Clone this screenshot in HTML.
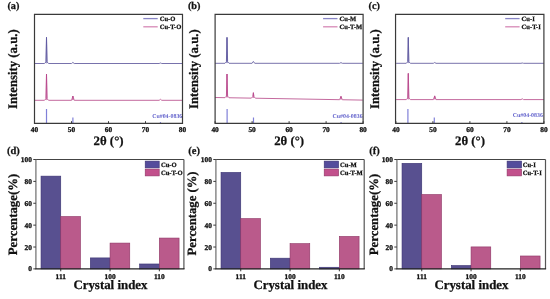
<!DOCTYPE html>
<html><head><meta charset="utf-8"><style>
html,body{margin:0;padding:0;background:#fff;width:550px;height:299px;overflow:hidden;}
svg{display:block;font-family:"Liberation Serif",serif;will-change:transform;text-rendering:geometricPrecision;}
</style></head><body>
<svg width="550" height="299" viewBox="0 0 550 299"><defs><clipPath id="ct0"><rect x="34.5" y="14.4" width="148" height="109.0"/></clipPath></defs>
<g clip-path="url(#ct0)"><path d="M34.30,63.50 L44.51,63.50 L45.91,61.90 L46.51,37.30 L47.11,61.90 L48.51,63.50 L71.59,63.50 L72.89,62.40 L74.19,63.50 L159.17,63.50 L160.47,63.00 L161.77,63.50 L182.30,63.50" fill="none" stroke="#7872ac" stroke-width="1.0"/><path d="M34.30,100.30 L44.51,100.30 L45.91,98.70 L46.51,74.00 L47.11,98.70 L48.51,100.30 L71.59,100.30 L72.89,96.00 L74.19,100.30 L159.17,100.30 L160.47,99.30 L161.77,100.30 L182.30,100.30" fill="none" stroke="#c46a9e" stroke-width="1.0"/><path d="M46.16,63.30 L46.51,37.30 L46.86,63.30" fill="none" stroke="#5a55a0" stroke-width="0.55"/><path d="M46.16,100.10 L46.51,74.00 L46.86,100.10" fill="none" stroke="#b8408a" stroke-width="0.55"/><path d="M72.54,100.10 L72.89,96.00 L73.24,100.10" fill="none" stroke="#b8408a" stroke-width="0.55"/><line x1="46.51" y1="109.0" x2="46.51" y2="123.4" stroke="#8080d8" stroke-width="1.2"/><line x1="72.89" y1="117.6" x2="72.89" y2="123.4" stroke="#8080d8" stroke-width="1.2"/><line x1="160.47" y1="122.0" x2="160.47" y2="123.4" stroke="#8080d8" stroke-width="1.2"/><text x="152.2" y="118.0" font-family="Liberation Serif" font-weight="bold" font-size="5.9" fill="#6262cc">Cu#04-0836</text></g>
<path d="M34.5,14.4 L182.5,14.4 L182.5,123.4 L34.5,123.4 Z" fill="none" stroke="#3a3a3a" stroke-width="1.2"/>
<line x1="34.50" y1="123.4" x2="34.50" y2="121.2" stroke="#3a3a3a" stroke-width="1"/>
<text x="34.50" y="132.3" text-anchor="middle" font-family="Liberation Serif" font-weight="bold" stroke="#111" stroke-width="0.3" font-size="7.4" fill="#111">40</text>
<line x1="71.50" y1="123.4" x2="71.50" y2="121.2" stroke="#3a3a3a" stroke-width="1"/>
<text x="71.50" y="132.3" text-anchor="middle" font-family="Liberation Serif" font-weight="bold" stroke="#111" stroke-width="0.3" font-size="7.4" fill="#111">50</text>
<line x1="108.50" y1="123.4" x2="108.50" y2="121.2" stroke="#3a3a3a" stroke-width="1"/>
<text x="108.50" y="132.3" text-anchor="middle" font-family="Liberation Serif" font-weight="bold" stroke="#111" stroke-width="0.3" font-size="7.4" fill="#111">60</text>
<line x1="145.50" y1="123.4" x2="145.50" y2="121.2" stroke="#3a3a3a" stroke-width="1"/>
<text x="145.50" y="132.3" text-anchor="middle" font-family="Liberation Serif" font-weight="bold" stroke="#111" stroke-width="0.3" font-size="7.4" fill="#111">70</text>
<line x1="182.50" y1="123.4" x2="182.50" y2="121.2" stroke="#3a3a3a" stroke-width="1"/>
<text x="182.50" y="132.3" text-anchor="middle" font-family="Liberation Serif" font-weight="bold" stroke="#111" stroke-width="0.3" font-size="7.4" fill="#111">80</text>
<line x1="143.3" y1="18.6" x2="157.7" y2="18.6" stroke="#8884c4" stroke-width="1.3"/>
<line x1="143.3" y1="26.8" x2="157.7" y2="26.8" stroke="#d688b6" stroke-width="1.3"/>
<text x="159.7" y="21.0" font-family="Liberation Serif" font-weight="bold" stroke="#111" stroke-width="0.25" font-size="6.6" fill="#111">Cu-O</text>
<text x="159.7" y="29.2" font-family="Liberation Serif" font-weight="bold" stroke="#111" stroke-width="0.25" font-size="6.6" fill="#111">Cu-T-O</text>
<text x="93.6" y="145.3" font-family="Liberation Serif" font-weight="bold" stroke="#111" stroke-width="0.25" font-size="12.8" fill="#111">2θ (°)</text>
<text transform="translate(17.4,69.15) rotate(-90) scale(0.973,1)" text-anchor="middle" font-family="Liberation Serif" font-weight="bold" stroke="#111" stroke-width="0.25" font-size="13.1" fill="#111">Intensity (a.u.)</text>
<text x="7.4" y="8.7" font-family="Liberation Serif" font-weight="bold" stroke="#111" stroke-width="0.25" font-size="10.3" fill="#111">(a)</text>
<defs><clipPath id="ct1"><rect x="215.1" y="14.4" width="148" height="109.0"/></clipPath></defs>
<g clip-path="url(#ct1)"><path d="M214.80,63.30 L225.01,63.30 L226.41,61.70 L227.01,37.40 L227.61,61.70 L229.01,63.30 L252.09,63.30 L253.39,61.40 L254.69,63.30 L339.67,63.30 L340.97,62.60 L342.27,63.30 L362.80,63.30" fill="none" stroke="#7872ac" stroke-width="1.0"/><path d="M214.80,97.50 L225.01,97.68 L226.41,96.11 L227.01,74.00 L227.61,96.11 L229.01,97.75 L251.39,98.14 L252.79,96.58 L253.39,92.70 L253.99,96.58 L255.39,98.21 L339.67,99.69 L340.97,96.30 L342.27,99.74 L362.80,100.10" fill="none" stroke="#c46a9e" stroke-width="1.0"/><path d="M226.66,63.10 L227.01,37.40 L227.36,63.10" fill="none" stroke="#5a55a0" stroke-width="0.55"/><path d="M226.66,97.51 L227.01,74.00 L227.36,97.51" fill="none" stroke="#b8408a" stroke-width="0.55"/><path d="M253.04,97.98 L253.39,92.70 L253.74,97.98" fill="none" stroke="#b8408a" stroke-width="0.55"/><path d="M340.62,99.52 L340.97,96.30 L341.32,99.52" fill="none" stroke="#b8408a" stroke-width="0.55"/><line x1="227.11" y1="109.0" x2="227.11" y2="123.4" stroke="#8080d8" stroke-width="1.2"/><line x1="253.49" y1="117.6" x2="253.49" y2="123.4" stroke="#8080d8" stroke-width="1.2"/><line x1="341.07" y1="122.0" x2="341.07" y2="123.4" stroke="#8080d8" stroke-width="1.2"/><text x="332.5" y="118.0" font-family="Liberation Serif" font-weight="bold" font-size="5.9" fill="#6262cc">Cu#04-0836</text></g>
<path d="M215.1,14.4 L363.1,14.4 L363.1,123.4 L215.1,123.4 Z" fill="none" stroke="#3a3a3a" stroke-width="1.2"/>
<line x1="215.10" y1="123.4" x2="215.10" y2="121.2" stroke="#3a3a3a" stroke-width="1"/>
<text x="215.10" y="132.3" text-anchor="middle" font-family="Liberation Serif" font-weight="bold" stroke="#111" stroke-width="0.3" font-size="7.4" fill="#111">40</text>
<line x1="252.10" y1="123.4" x2="252.10" y2="121.2" stroke="#3a3a3a" stroke-width="1"/>
<text x="252.10" y="132.3" text-anchor="middle" font-family="Liberation Serif" font-weight="bold" stroke="#111" stroke-width="0.3" font-size="7.4" fill="#111">50</text>
<line x1="289.10" y1="123.4" x2="289.10" y2="121.2" stroke="#3a3a3a" stroke-width="1"/>
<text x="289.10" y="132.3" text-anchor="middle" font-family="Liberation Serif" font-weight="bold" stroke="#111" stroke-width="0.3" font-size="7.4" fill="#111">60</text>
<line x1="326.10" y1="123.4" x2="326.10" y2="121.2" stroke="#3a3a3a" stroke-width="1"/>
<text x="326.10" y="132.3" text-anchor="middle" font-family="Liberation Serif" font-weight="bold" stroke="#111" stroke-width="0.3" font-size="7.4" fill="#111">70</text>
<line x1="363.10" y1="123.4" x2="363.10" y2="121.2" stroke="#3a3a3a" stroke-width="1"/>
<text x="363.10" y="132.3" text-anchor="middle" font-family="Liberation Serif" font-weight="bold" stroke="#111" stroke-width="0.3" font-size="7.4" fill="#111">80</text>
<line x1="323.09999999999997" y1="18.6" x2="337.5" y2="18.6" stroke="#8884c4" stroke-width="1.3"/>
<line x1="323.09999999999997" y1="26.8" x2="337.5" y2="26.8" stroke="#d688b6" stroke-width="1.3"/>
<text x="339.5" y="21.0" font-family="Liberation Serif" font-weight="bold" stroke="#111" stroke-width="0.25" font-size="6.6" fill="#111">Cu-M</text>
<text x="339.5" y="29.2" font-family="Liberation Serif" font-weight="bold" stroke="#111" stroke-width="0.25" font-size="6.6" fill="#111">Cu-T-M</text>
<text x="274.2" y="145.3" font-family="Liberation Serif" font-weight="bold" stroke="#111" stroke-width="0.25" font-size="12.8" fill="#111">2θ (°)</text>
<text transform="translate(198.0,69.15) rotate(-90) scale(0.973,1)" text-anchor="middle" font-family="Liberation Serif" font-weight="bold" stroke="#111" stroke-width="0.25" font-size="13.1" fill="#111">Intensity (a.u.)</text>
<text x="187.9" y="8.7" font-family="Liberation Serif" font-weight="bold" stroke="#111" stroke-width="0.25" font-size="10.3" fill="#111">(b)</text>
<defs><clipPath id="ct2"><rect x="395.9" y="14.4" width="148" height="109.0"/></clipPath></defs>
<g clip-path="url(#ct2)"><path d="M396.10,63.30 L406.31,63.30 L407.71,61.70 L408.31,37.40 L408.91,61.70 L410.31,63.30 L433.39,63.30 L434.69,62.50 L435.99,63.30 L520.97,63.30 L522.27,63.00 L523.57,63.30 L544.10,63.30" fill="none" stroke="#7872ac" stroke-width="1.0"/><path d="M396.10,99.60 L406.31,99.60 L407.71,98.00 L408.31,73.40 L408.91,98.00 L410.31,99.60 L433.39,99.60 L434.69,95.90 L435.99,99.60 L520.97,99.60 L522.27,98.80 L523.57,99.60 L544.10,99.60" fill="none" stroke="#c46a9e" stroke-width="1.0"/><path d="M407.96,63.10 L408.31,37.40 L408.66,63.10" fill="none" stroke="#5a55a0" stroke-width="0.55"/><path d="M407.96,99.40 L408.31,73.40 L408.66,99.40" fill="none" stroke="#b8408a" stroke-width="0.55"/><path d="M434.34,99.40 L434.69,95.90 L435.04,99.40" fill="none" stroke="#b8408a" stroke-width="0.55"/><line x1="407.91" y1="109.0" x2="407.91" y2="123.4" stroke="#8080d8" stroke-width="1.2"/><line x1="434.29" y1="117.6" x2="434.29" y2="123.4" stroke="#8080d8" stroke-width="1.2"/><line x1="521.87" y1="122.0" x2="521.87" y2="123.4" stroke="#8080d8" stroke-width="1.2"/><text x="512.8000000000001" y="117.4" font-family="Liberation Serif" font-weight="bold" font-size="5.9" fill="#6262cc">Cu#04-0836</text></g>
<path d="M395.55,14.4 L543.9,14.4 L543.9,123.4 L395.55,123.4 Z" fill="none" stroke="#3a3a3a" stroke-width="1.2"/>
<line x1="395.90" y1="123.4" x2="395.90" y2="121.2" stroke="#3a3a3a" stroke-width="1"/>
<text x="395.90" y="132.3" text-anchor="middle" font-family="Liberation Serif" font-weight="bold" stroke="#111" stroke-width="0.3" font-size="7.4" fill="#111">40</text>
<line x1="432.90" y1="123.4" x2="432.90" y2="121.2" stroke="#3a3a3a" stroke-width="1"/>
<text x="432.90" y="132.3" text-anchor="middle" font-family="Liberation Serif" font-weight="bold" stroke="#111" stroke-width="0.3" font-size="7.4" fill="#111">50</text>
<line x1="469.90" y1="123.4" x2="469.90" y2="121.2" stroke="#3a3a3a" stroke-width="1"/>
<text x="469.90" y="132.3" text-anchor="middle" font-family="Liberation Serif" font-weight="bold" stroke="#111" stroke-width="0.3" font-size="7.4" fill="#111">60</text>
<line x1="506.90" y1="123.4" x2="506.90" y2="121.2" stroke="#3a3a3a" stroke-width="1"/>
<text x="506.90" y="132.3" text-anchor="middle" font-family="Liberation Serif" font-weight="bold" stroke="#111" stroke-width="0.3" font-size="7.4" fill="#111">70</text>
<line x1="543.90" y1="123.4" x2="543.90" y2="121.2" stroke="#3a3a3a" stroke-width="1"/>
<text x="543.90" y="132.3" text-anchor="middle" font-family="Liberation Serif" font-weight="bold" stroke="#111" stroke-width="0.3" font-size="7.4" fill="#111">80</text>
<line x1="505.2" y1="18.6" x2="519.6" y2="18.6" stroke="#8884c4" stroke-width="1.3"/>
<line x1="505.2" y1="26.8" x2="519.6" y2="26.8" stroke="#d688b6" stroke-width="1.3"/>
<text x="521.6" y="21.0" font-family="Liberation Serif" font-weight="bold" stroke="#111" stroke-width="0.25" font-size="6.6" fill="#111">Cu-I</text>
<text x="521.6" y="29.2" font-family="Liberation Serif" font-weight="bold" stroke="#111" stroke-width="0.25" font-size="6.6" fill="#111">Cu-T-I</text>
<text x="455.0" y="145.3" font-family="Liberation Serif" font-weight="bold" stroke="#111" stroke-width="0.25" font-size="12.8" fill="#111">2θ (°)</text>
<text transform="translate(378.79999999999995,69.15) rotate(-90) scale(0.973,1)" text-anchor="middle" font-family="Liberation Serif" font-weight="bold" stroke="#111" stroke-width="0.25" font-size="13.1" fill="#111">Intensity (a.u.)</text>
<text x="368.5" y="8.7" font-family="Liberation Serif" font-weight="bold" stroke="#111" stroke-width="0.25" font-size="10.3" fill="#111">(c)</text>
<rect x="41.03" y="176.13" width="19.72" height="92.77" fill="#585090" stroke="#3a3272" stroke-width="0.6"/>
<rect x="60.75" y="216.50" width="19.72" height="52.40" fill="#ba5a8b" stroke="#8e3464" stroke-width="0.6"/>
<line x1="60.75" y1="268.9" x2="60.75" y2="271.29999999999995" stroke="#3a3a3a" stroke-width="1"/>
<text x="60.75" y="278.8" text-anchor="middle" font-family="Liberation Serif" font-weight="bold" stroke="#111" stroke-width="0.3" font-size="7.4" fill="#111">111</text>
<rect x="90.33" y="257.91" width="19.72" height="10.99" fill="#585090" stroke="#3a3272" stroke-width="0.6"/>
<rect x="110.05" y="243.08" width="19.72" height="25.82" fill="#ba5a8b" stroke="#8e3464" stroke-width="0.6"/>
<line x1="110.05" y1="268.9" x2="110.05" y2="271.29999999999995" stroke="#3a3a3a" stroke-width="1"/>
<text x="110.05" y="278.8" text-anchor="middle" font-family="Liberation Serif" font-weight="bold" stroke="#111" stroke-width="0.3" font-size="7.4" fill="#111">100</text>
<rect x="139.63" y="263.98" width="19.72" height="4.92" fill="#585090" stroke="#3a3272" stroke-width="0.6"/>
<rect x="159.35" y="238.05" width="19.72" height="30.85" fill="#ba5a8b" stroke="#8e3464" stroke-width="0.6"/>
<line x1="159.35" y1="268.9" x2="159.35" y2="271.29999999999995" stroke="#3a3a3a" stroke-width="1"/>
<text x="159.35" y="278.8" text-anchor="middle" font-family="Liberation Serif" font-weight="bold" stroke="#111" stroke-width="0.3" font-size="7.4" fill="#111">110</text>
<line x1="183.9" y1="159.5" x2="183.9" y2="268.9" stroke="#555" stroke-width="1.2"/>
<line x1="35.9" y1="159.5" x2="183.9" y2="159.5" stroke="#444" stroke-width="1.2"/>
<line x1="35.9" y1="159.5" x2="35.9" y2="268.9" stroke="#777" stroke-width="1.3"/>
<line x1="35.3" y1="268.9" x2="184.5" y2="268.9" stroke="#222" stroke-width="1.2"/>
<line x1="33.3" y1="268.90" x2="35.9" y2="268.90" stroke="#3a3a3a" stroke-width="1"/>
<text x="31.9" y="271.40" text-anchor="end" font-family="Liberation Serif" font-weight="bold" stroke="#111" stroke-width="0.3" font-size="7.4" fill="#111">0</text>
<line x1="33.3" y1="247.02" x2="35.9" y2="247.02" stroke="#3a3a3a" stroke-width="1"/>
<text x="31.9" y="249.52" text-anchor="end" font-family="Liberation Serif" font-weight="bold" stroke="#111" stroke-width="0.3" font-size="7.4" fill="#111">20</text>
<line x1="33.3" y1="225.14" x2="35.9" y2="225.14" stroke="#3a3a3a" stroke-width="1"/>
<text x="31.9" y="227.64" text-anchor="end" font-family="Liberation Serif" font-weight="bold" stroke="#111" stroke-width="0.3" font-size="7.4" fill="#111">40</text>
<line x1="33.3" y1="203.26" x2="35.9" y2="203.26" stroke="#3a3a3a" stroke-width="1"/>
<text x="31.9" y="205.76" text-anchor="end" font-family="Liberation Serif" font-weight="bold" stroke="#111" stroke-width="0.3" font-size="7.4" fill="#111">60</text>
<line x1="33.3" y1="181.38" x2="35.9" y2="181.38" stroke="#3a3a3a" stroke-width="1"/>
<text x="31.9" y="183.88" text-anchor="end" font-family="Liberation Serif" font-weight="bold" stroke="#111" stroke-width="0.3" font-size="7.4" fill="#111">80</text>
<line x1="33.3" y1="159.50" x2="35.9" y2="159.50" stroke="#3a3a3a" stroke-width="1"/>
<text x="31.9" y="162.00" text-anchor="end" font-family="Liberation Serif" font-weight="bold" stroke="#111" stroke-width="0.3" font-size="7.4" fill="#111">100</text>
<rect x="145.2" y="161.1" width="14.0" height="6.8" fill="#544c9c" stroke="#3a3272" stroke-width="0.6"/>
<rect x="145.2" y="169.1" width="14.0" height="6.8" fill="#c2508c" stroke="#8e3464" stroke-width="0.6"/>
<text x="160.9" y="166.6" font-family="Liberation Serif" font-weight="bold" stroke="#111" stroke-width="0.25" font-size="6.6" fill="#111">Cu-O</text>
<text x="160.9" y="174.6" font-family="Liberation Serif" font-weight="bold" stroke="#111" stroke-width="0.25" font-size="6.6" fill="#111">Cu-T-O</text>
<text x="73.4" y="289.1" font-family="Liberation Serif" font-weight="bold" stroke="#111" stroke-width="0.25" font-size="12.9" fill="#111">Crystal index</text>
<text transform="translate(16.599999999999998,214.5) rotate(-90)" text-anchor="middle" font-family="Liberation Serif" font-weight="bold" stroke="#111" stroke-width="0.25" font-size="12.8" fill="#111">Percentage(%)</text>
<text x="7.0" y="153.5" font-family="Liberation Serif" font-weight="bold" stroke="#111" stroke-width="0.25" font-size="10.5" fill="#111">(d)</text>
<rect x="221.03" y="172.41" width="19.72" height="96.49" fill="#585090" stroke="#3a3272" stroke-width="0.6"/>
<rect x="240.75" y="218.58" width="19.72" height="50.32" fill="#ba5a8b" stroke="#8e3464" stroke-width="0.6"/>
<line x1="240.75" y1="268.9" x2="240.75" y2="271.29999999999995" stroke="#3a3a3a" stroke-width="1"/>
<text x="240.75" y="278.8" text-anchor="middle" font-family="Liberation Serif" font-weight="bold" stroke="#111" stroke-width="0.3" font-size="7.4" fill="#111">111</text>
<rect x="270.33" y="258.18" width="19.72" height="10.72" fill="#585090" stroke="#3a3272" stroke-width="0.6"/>
<rect x="290.05" y="243.63" width="19.72" height="25.27" fill="#ba5a8b" stroke="#8e3464" stroke-width="0.6"/>
<line x1="290.05" y1="268.9" x2="290.05" y2="271.29999999999995" stroke="#3a3a3a" stroke-width="1"/>
<text x="290.05" y="278.8" text-anchor="middle" font-family="Liberation Serif" font-weight="bold" stroke="#111" stroke-width="0.3" font-size="7.4" fill="#111">100</text>
<rect x="319.63" y="267.26" width="19.72" height="1.64" fill="#585090" stroke="#3a3272" stroke-width="0.6"/>
<rect x="339.35" y="236.41" width="19.72" height="32.49" fill="#ba5a8b" stroke="#8e3464" stroke-width="0.6"/>
<line x1="339.35" y1="268.9" x2="339.35" y2="271.29999999999995" stroke="#3a3a3a" stroke-width="1"/>
<text x="339.35" y="278.8" text-anchor="middle" font-family="Liberation Serif" font-weight="bold" stroke="#111" stroke-width="0.3" font-size="7.4" fill="#111">110</text>
<line x1="364.20000000000005" y1="159.5" x2="364.20000000000005" y2="268.9" stroke="#555" stroke-width="1.2"/>
<line x1="215.9" y1="159.5" x2="364.20000000000005" y2="159.5" stroke="#444" stroke-width="1.2"/>
<line x1="215.9" y1="159.5" x2="215.9" y2="268.9" stroke="#777" stroke-width="1.3"/>
<line x1="215.3" y1="268.9" x2="364.80000000000007" y2="268.9" stroke="#222" stroke-width="1.2"/>
<line x1="213.3" y1="268.90" x2="215.9" y2="268.90" stroke="#3a3a3a" stroke-width="1"/>
<text x="211.9" y="271.40" text-anchor="end" font-family="Liberation Serif" font-weight="bold" stroke="#111" stroke-width="0.3" font-size="7.4" fill="#111">0</text>
<line x1="213.3" y1="247.02" x2="215.9" y2="247.02" stroke="#3a3a3a" stroke-width="1"/>
<text x="211.9" y="249.52" text-anchor="end" font-family="Liberation Serif" font-weight="bold" stroke="#111" stroke-width="0.3" font-size="7.4" fill="#111">20</text>
<line x1="213.3" y1="225.14" x2="215.9" y2="225.14" stroke="#3a3a3a" stroke-width="1"/>
<text x="211.9" y="227.64" text-anchor="end" font-family="Liberation Serif" font-weight="bold" stroke="#111" stroke-width="0.3" font-size="7.4" fill="#111">40</text>
<line x1="213.3" y1="203.26" x2="215.9" y2="203.26" stroke="#3a3a3a" stroke-width="1"/>
<text x="211.9" y="205.76" text-anchor="end" font-family="Liberation Serif" font-weight="bold" stroke="#111" stroke-width="0.3" font-size="7.4" fill="#111">60</text>
<line x1="213.3" y1="181.38" x2="215.9" y2="181.38" stroke="#3a3a3a" stroke-width="1"/>
<text x="211.9" y="183.88" text-anchor="end" font-family="Liberation Serif" font-weight="bold" stroke="#111" stroke-width="0.3" font-size="7.4" fill="#111">80</text>
<line x1="213.3" y1="159.50" x2="215.9" y2="159.50" stroke="#3a3a3a" stroke-width="1"/>
<text x="211.9" y="162.00" text-anchor="end" font-family="Liberation Serif" font-weight="bold" stroke="#111" stroke-width="0.3" font-size="7.4" fill="#111">100</text>
<rect x="324.2" y="161.1" width="14.4" height="6.8" fill="#544c9c" stroke="#3a3272" stroke-width="0.6"/>
<rect x="324.2" y="169.1" width="14.4" height="6.8" fill="#c2508c" stroke="#8e3464" stroke-width="0.6"/>
<text x="340.0" y="166.6" font-family="Liberation Serif" font-weight="bold" stroke="#111" stroke-width="0.25" font-size="6.6" fill="#111">Cu-M</text>
<text x="340.0" y="174.6" font-family="Liberation Serif" font-weight="bold" stroke="#111" stroke-width="0.25" font-size="6.6" fill="#111">Cu-T-M</text>
<text x="253.4" y="289.1" font-family="Liberation Serif" font-weight="bold" stroke="#111" stroke-width="0.25" font-size="12.9" fill="#111">Crystal index</text>
<text transform="translate(195.8,213.4) rotate(-90)" text-anchor="middle" font-family="Liberation Serif" font-weight="bold" stroke="#111" stroke-width="0.25" font-size="12.7" fill="#111">Percentage (%)</text>
<text x="188.3" y="153.5" font-family="Liberation Serif" font-weight="bold" stroke="#111" stroke-width="0.25" font-size="10.5" fill="#111">(e)</text>
<rect x="402.03" y="163.33" width="19.72" height="105.57" fill="#585090" stroke="#3a3272" stroke-width="0.6"/>
<rect x="421.75" y="194.51" width="19.72" height="74.39" fill="#ba5a8b" stroke="#8e3464" stroke-width="0.6"/>
<line x1="421.75" y1="268.9" x2="421.75" y2="271.29999999999995" stroke="#3a3a3a" stroke-width="1"/>
<text x="421.75" y="278.8" text-anchor="middle" font-family="Liberation Serif" font-weight="bold" stroke="#111" stroke-width="0.3" font-size="7.4" fill="#111">111</text>
<rect x="451.33" y="265.51" width="19.72" height="3.39" fill="#585090" stroke="#3a3272" stroke-width="0.6"/>
<rect x="471.05" y="246.91" width="19.72" height="21.99" fill="#ba5a8b" stroke="#8e3464" stroke-width="0.6"/>
<line x1="471.05" y1="268.9" x2="471.05" y2="271.29999999999995" stroke="#3a3a3a" stroke-width="1"/>
<text x="471.05" y="278.8" text-anchor="middle" font-family="Liberation Serif" font-weight="bold" stroke="#111" stroke-width="0.3" font-size="7.4" fill="#111">100</text>
<rect x="520.35" y="255.99" width="19.72" height="12.91" fill="#ba5a8b" stroke="#8e3464" stroke-width="0.6"/>
<line x1="520.35" y1="268.9" x2="520.35" y2="271.29999999999995" stroke="#3a3a3a" stroke-width="1"/>
<text x="520.35" y="278.8" text-anchor="middle" font-family="Liberation Serif" font-weight="bold" stroke="#111" stroke-width="0.3" font-size="7.4" fill="#111">110</text>
<line x1="545.5" y1="159.5" x2="545.5" y2="268.9" stroke="#555" stroke-width="1.2"/>
<line x1="396.9" y1="159.5" x2="545.5" y2="159.5" stroke="#444" stroke-width="1.2"/>
<line x1="396.9" y1="159.5" x2="396.9" y2="268.9" stroke="#777" stroke-width="1.3"/>
<line x1="396.29999999999995" y1="268.9" x2="546.1" y2="268.9" stroke="#222" stroke-width="1.2"/>
<line x1="394.29999999999995" y1="268.90" x2="396.9" y2="268.90" stroke="#3a3a3a" stroke-width="1"/>
<text x="392.9" y="271.40" text-anchor="end" font-family="Liberation Serif" font-weight="bold" stroke="#111" stroke-width="0.3" font-size="7.4" fill="#111">0</text>
<line x1="394.29999999999995" y1="247.02" x2="396.9" y2="247.02" stroke="#3a3a3a" stroke-width="1"/>
<text x="392.9" y="249.52" text-anchor="end" font-family="Liberation Serif" font-weight="bold" stroke="#111" stroke-width="0.3" font-size="7.4" fill="#111">20</text>
<line x1="394.29999999999995" y1="225.14" x2="396.9" y2="225.14" stroke="#3a3a3a" stroke-width="1"/>
<text x="392.9" y="227.64" text-anchor="end" font-family="Liberation Serif" font-weight="bold" stroke="#111" stroke-width="0.3" font-size="7.4" fill="#111">40</text>
<line x1="394.29999999999995" y1="203.26" x2="396.9" y2="203.26" stroke="#3a3a3a" stroke-width="1"/>
<text x="392.9" y="205.76" text-anchor="end" font-family="Liberation Serif" font-weight="bold" stroke="#111" stroke-width="0.3" font-size="7.4" fill="#111">60</text>
<line x1="394.29999999999995" y1="181.38" x2="396.9" y2="181.38" stroke="#3a3a3a" stroke-width="1"/>
<text x="392.9" y="183.88" text-anchor="end" font-family="Liberation Serif" font-weight="bold" stroke="#111" stroke-width="0.3" font-size="7.4" fill="#111">80</text>
<line x1="394.29999999999995" y1="159.50" x2="396.9" y2="159.50" stroke="#3a3a3a" stroke-width="1"/>
<text x="392.9" y="162.00" text-anchor="end" font-family="Liberation Serif" font-weight="bold" stroke="#111" stroke-width="0.3" font-size="7.4" fill="#111">100</text>
<rect x="507.1" y="161.1" width="14.5" height="6.8" fill="#544c9c" stroke="#3a3272" stroke-width="0.6"/>
<rect x="507.1" y="169.1" width="14.5" height="6.8" fill="#c2508c" stroke="#8e3464" stroke-width="0.6"/>
<text x="522.7" y="166.6" font-family="Liberation Serif" font-weight="bold" stroke="#111" stroke-width="0.25" font-size="6.6" fill="#111">Cu-I</text>
<text x="522.7" y="174.6" font-family="Liberation Serif" font-weight="bold" stroke="#111" stroke-width="0.25" font-size="6.6" fill="#111">Cu-T-I</text>
<text x="434.4" y="289.1" font-family="Liberation Serif" font-weight="bold" stroke="#111" stroke-width="0.25" font-size="12.9" fill="#111">Crystal index</text>
<text transform="translate(377.59999999999997,214.5) rotate(-90)" text-anchor="middle" font-family="Liberation Serif" font-weight="bold" stroke="#111" stroke-width="0.25" font-size="12.8" fill="#111">Percentage(%)</text>
<text x="369.2" y="153.5" font-family="Liberation Serif" font-weight="bold" stroke="#111" stroke-width="0.25" font-size="10.5" fill="#111">(f)</text></svg>
</body></html>
